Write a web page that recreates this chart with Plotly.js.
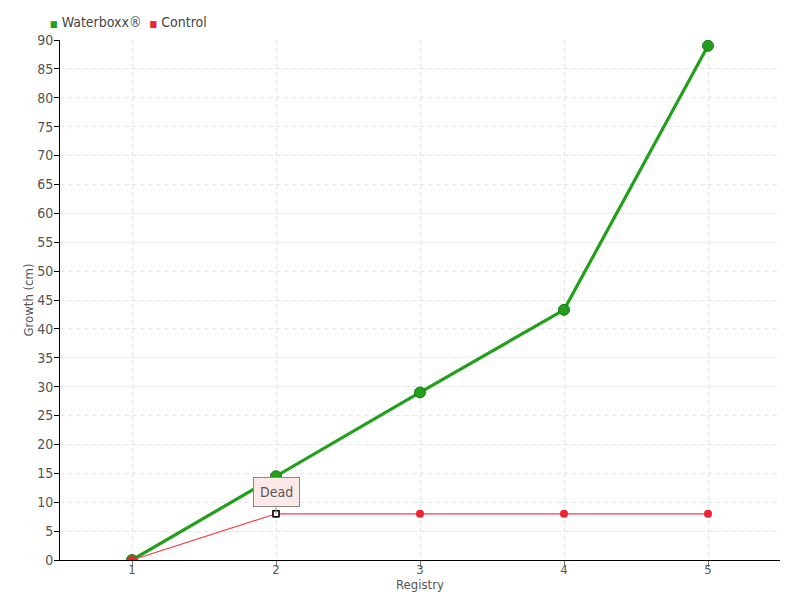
<!DOCTYPE html>
<html><head><meta charset="utf-8">
<script src="https://cdn.plot.ly/plotly-3.0.1.min.js"></script>
<style>body{margin:0}#c{width:800px;height:600px}</style>
</head><body><div id="c"></div>
<script>
const registry = [1, 2, 3, 4, 5];
const waterboxx = [0, 14.5, 29, 43.3, 89];
const control = [0, 8, 8, 8, 8];
const yTicks = [0,5,10,15,20,25,30,35,40,45,50,55,60,65,70,75,80,85,90];
const seriesNames = ["Waterboxx®", "Control"];
const font = "Liberation Sans Narrow, DejaVu Sans Condensed, sans-serif";
const green = "#22a01c", red = "#ee2233";

const traces = [
  {x: registry, y: waterboxx, name: seriesNames[0], mode: "lines+markers", showlegend: false,
   line: {color: green, width: 3.2},
   marker: {color: green, size: 11, symbol: "circle", line: {color: "#1a7a16", width: 1}}},
  {x: registry, y: control, name: seriesNames[1], mode: "lines+markers", showlegend: false,
   line: {color: "#f4404e", width: 1.2},
   marker: {color: red, size: 8, symbol: "circle"}},
  {x: [registry[1]], y: [control[1]], mode: "markers", showlegend: false, hoverinfo: "skip",
   marker: {color: "white", size: 6, symbol: "square", line: {color: "black", width: 1.5}}}
];

const layout = {
  width: 800, height: 600,
  margin: {l: 60, r: 20, t: 40, b: 40},
  paper_bgcolor: "white", plot_bgcolor: "white",
  font: {family: font, color: "#555", size: 14},
  showlegend: false,
  xaxis: {range: [0.5, 5.5], tickvals: registry, ticktext: registry.map(String),
          showgrid: true, gridcolor: "#e6e6e6", griddash: "5px,3px", zeroline: false,
          showline: true, linecolor: "black", linewidth: 1,
          ticks: "outside", ticklen: 6, tickcolor: "#777", ticklabelstandoff: -9,
          tickfont: {size: 13, color: "#555"},
          title: {text: "Registry", font: {size: 13, color: "#555"}, standoff: 0}},
  yaxis: {range: [0, 90], tickvals: yTicks,
          showgrid: true, gridcolor: "#e6e6e6", griddash: "5px,3px", zeroline: false,
          showline: true, linecolor: "black", linewidth: 1,
          ticks: "outside", ticklen: 5, tickcolor: "black", ticklabelstandoff: -2,
          tickfont: {size: 14, color: "#555"},
          title: {text: "Growth (cm)", font: {size: 13, color: "#555"}, standoff: 0}},
  annotations: [
    {x: registry[1], y: control[1], text: "Dead", showarrow: true, arrowhead: 0,
     arrowcolor: "#999", arrowwidth: 1, ax: 0, ay: -22,
     bgcolor: "#fde8e8", bordercolor: "#888", borderwidth: 1, borderpad: 6,
     font: {size: 14, color: "#555"}},
    {xref: "paper", yref: "paper", x: -0.017, y: 1.035, xanchor: "left", yanchor: "middle",
     showarrow: false, font: {size: 14, color: "#444"},
     text: "<span style='color:" + green + ";font-size:9px'>■</span> " + seriesNames[0] +
           "  <span style='color:" + red + ";font-size:9px'>■</span> " + seriesNames[1]}
  ]
};
Plotly.newPlot("c", traces, layout, {displayModeBar: false});
</script></body></html>
